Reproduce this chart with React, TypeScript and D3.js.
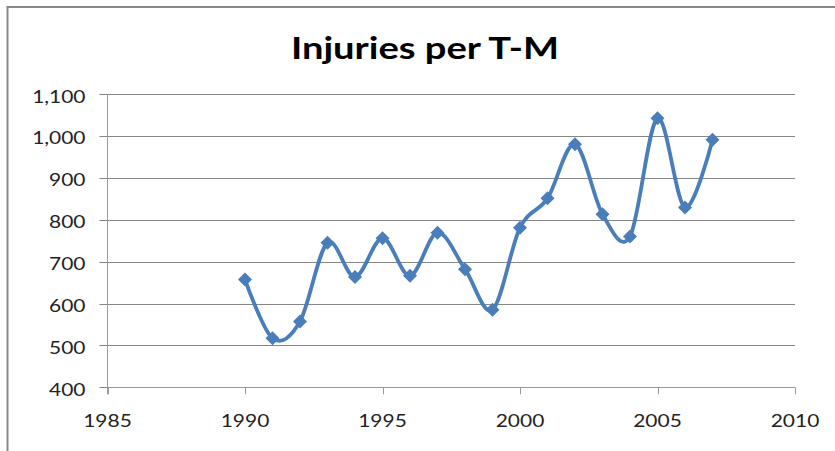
import React from "react";
import * as d3 from "d3";

const years = [1990, 1991, 1992, 1993, 1994, 1995, 1996, 1997, 1998, 1999, 2000, 2001, 2002, 2003, 2004, 2005, 2006, 2007];
const injuries = [657, 517, 557, 745, 663, 756, 666, 769, 682, 585, 781, 851, 980, 813, 760, 1042, 829, 991];
const xTicks = [1985, 1990, 1995, 2000, 2005, 2010];
const yTicks = [400, 500, 600, 700, 800, 900, 1000, 1100];
const title = "Injuries per T-M";

const W = 835;
const H = 451;
const left = 107.5;
const right = 795;
const top = 94;
const bottom = 387.3;
const blue = "#4A7EBB";
const grid = "#868686";
const axisCol = "#9a9a9a";
const font = "Lato, 'Open Sans', sans-serif";
const SX = 1.27;

function T(props: { x: number; y: number; anchor: string; size: number; bold?: boolean; children: React.ReactNode; fill?: string }) {
  return (
    <text
      transform={`translate(${props.x},${props.y}) scale(${SX},1)`}
      textAnchor={props.anchor}
      fontFamily={font}
      fontSize={props.size}
      fontWeight={props.bold ? "bold" : "normal"}
      fill={props.fill || "#222"}
    >
      {props.children}
    </text>
  );
}

export default function App() {
  const x = d3.scaleLinear().domain([1985, 2010]).range([left, right]);
  const y = d3.scaleLinear().domain([400, 1100]).range([bottom, top]);
  const pts: [number, number][] = years.map((yr, i) => [x(yr), y(injuries[i])]);
  const line = d3.line().curve(d3.curveCardinal.tension(0))(pts) || "";
  const fmt = d3.format(",");
  const r = 7;
  const diamond = `M0,${-r}L${r},0L0,${r}L${-r},0Z`;

  return (
    <svg width={W} height={H} style={{ position: "absolute", left: 0, top: 0, background: "#fff" }}>
      <rect x={0} y={0} width={W} height={H} fill="#fff" />
      <rect x={7.5} y={7} width={W + 10} height={H + 10} fill="none" stroke="#888" strokeWidth={2} />
      <T x={425} y={58.5} anchor="middle" size={30} bold fill="#000">
        {title}
      </T>
      {yTicks.map((t) => (
        <g key={t}>
          <line x1={left - 8} x2={right} y1={Math.round(y(t)) + 0.5} y2={Math.round(y(t)) + 0.5} stroke={grid} strokeWidth={1} />
          <T x={85.5} y={y(t) + 8.5} anchor="end" size={16.5}>
            {fmt(t)}
          </T>
        </g>
      ))}
      <line x1={left} x2={left} y1={top} y2={bottom + 7} stroke={axisCol} strokeWidth={1} />
      <line x1={left} x2={right} y1={Math.round(bottom) + 0.5} y2={Math.round(bottom) + 0.5} stroke={axisCol} strokeWidth={1} />
      {xTicks.map((t) => (
        <g key={t}>
          <line x1={Math.round(x(t)) + 0.5} x2={Math.round(x(t)) + 0.5} y1={bottom} y2={bottom + 7} stroke={axisCol} strokeWidth={1} />
          <T x={x(t)} y={427} anchor="middle" size={16.5}>
            {t}
          </T>
        </g>
      ))}
      <path d={line} fill="none" stroke={blue} strokeWidth={3.8} strokeLinejoin="round" />
      {pts.map((p, i) => (
        <path key={i} d={diamond} transform={`translate(${p[0]},${p[1]})`} fill={blue} />
      ))}
    </svg>
  );
}
